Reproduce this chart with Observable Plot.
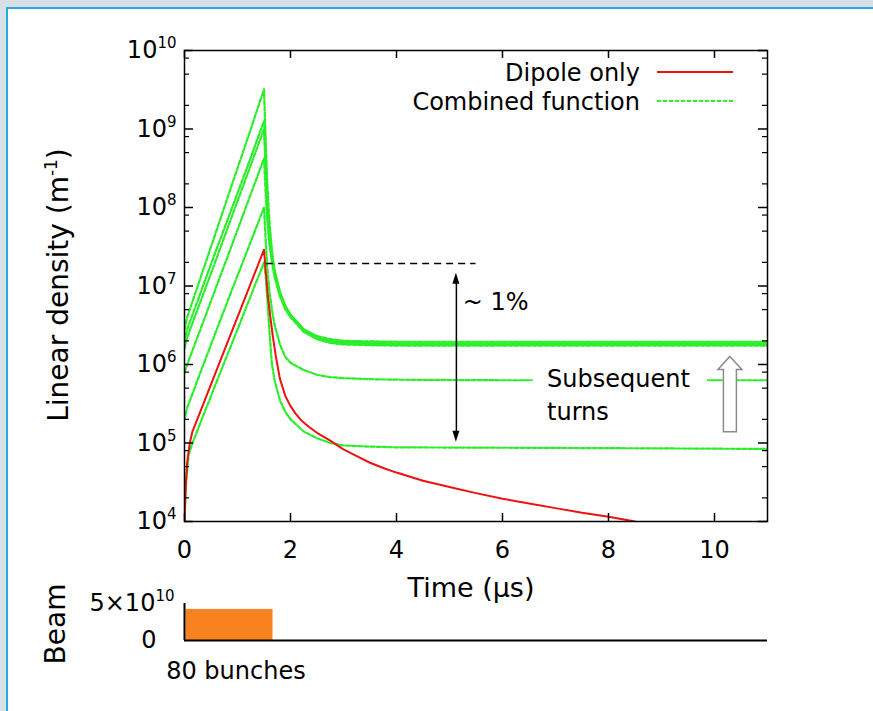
<!DOCTYPE html>
<html><head><meta charset="utf-8">
<script src="https://cdn.jsdelivr.net/npm/d3@7"></script>
<script src="https://cdn.jsdelivr.net/npm/@observablehq/plot@0.6"></script>
<style>
html,body{margin:0;padding:0;width:873px;height:711px;overflow:hidden;background:#d8dfe6;}
#panel{position:absolute;left:6px;top:7px;width:900px;height:720px;background:#fff;border-left:2px solid #2aa8df;border-top:2px solid #2aa8df;}
#chart{position:absolute;left:0;top:0;width:873px;height:711px;}
#chart svg{position:absolute;left:0;}
</style></head><body>
<div id="panel"></div>
<div id="chart"></div>
<script>
const FONT = "DejaVu Sans";
const GREEN = "#2aee2a";
const RED = "#ee1111";
const ORANGE = "#f7821f";

// ---- data (time in µs, linear density in m^-1) ----
const timeCombined = [0,0.05,0.3,0.6,0.9,1.2,1.5,1.53,1.56,1.6,1.65,1.7,1.8,1.9,2.0,2.25,2.5,2.75,3.0,3.5,4,6,8,11];
const turnA  = [2.8e6,4.0e6,1.26e7,5.0e7,2.0e8,7.9e8,3.2e9,7.9e8,2.2e8,7.1e7,2.8e7,1.6e7,8.5e6,5.6e6,4.3e6,2.8e6,2.3e6,2.1e6,2.0e6,1.97e6,1.95e6,1.95e6,1.95e6,1.95e6];
const turnB  = [2.0e6,2.8e6,8.1e6,2.9e7,1.0e8,3.5e8,1.26e9,4.0e8,1.26e8,5.0e7,2.5e7,1.5e7,8.3e6,5.6e6,4.3e6,2.8e6,2.25e6,2.0e6,1.92e6,1.88e6,1.86e6,1.86e6,1.86e6,1.86e6];
const turnB2 = [1.6e6,2.2e6,6.3e6,2.2e7,7.9e7,2.8e8,1.0e9,3.2e8,1.1e8,4.5e7,2.2e7,1.4e7,7.9e6,5.5e6,4.2e6,2.7e6,2.2e6,1.95e6,1.87e6,1.83e6,1.82e6,1.82e6,1.82e6,1.82e6];
const turnC  = [7.9e5,1.0e6,2.8e6,9.8e6,3.4e7,1.2e8,4.2e8,1.6e8,7.1e7,3.5e7,2.0e7,1.3e7,7.4e6,5.1e6,4.0e6,2.6e6,2.1e6,1.88e6,1.8e6,1.76e6,1.74e6,1.74e6,1.74e6,1.74e6];
const turnD  = [2.0e5,2.8e5,7.9e5,2.7e6,9.1e6,3.0e7,1.0e8,4.0e7,1.8e7,8.9e6,5.0e6,3.2e6,1.8e6,1.26e6,1.05e6,8.5e5,7.4e5,6.9e5,6.7e5,6.5e5,6.4e5,6.3e5,6.3e5,6.3e5];
const timeE  = [0,0.03,0.08,0.15,0.6,1.05,1.5,1.53,1.56,1.6,1.65,1.7,1.8,1.9,2.0,2.25,2.5,2.75,3.0,3.5,4,6,8,11];
const turnE  = [1.0e4,3.2e4,7.1e4,1.0e5,5.9e5,3.4e6,2.0e7,1.4e7,7.1e6,2.8e6,1.0e6,6.3e5,3.5e5,2.5e5,2.0e5,1.4e5,1.15e5,1.0e5,9.3e4,9.0e4,8.8e4,8.7e4,8.6e4,8.4e4];
const timeDipole = [0,0.02,0.05,0.1,0.15,0.6,1.05,1.5,1.53,1.57,1.62,1.67,1.73,1.8,1.9,2.0,2.1,2.2,2.35,2.5,2.75,3.0,3.25,3.5,3.75,4.0,4.5,5.0,5.5,6.0,6.5,7.0,7.5,8.0,8.5];
const dipole = [1.0e4,2.5e4,5.6e4,1.0e5,1.4e5,8.3e5,4.9e6,2.9e7,1.6e7,7.9e6,4.0e6,2.2e6,1.2e6,6.6e5,4.0e5,2.95e5,2.35e5,1.95e5,1.6e5,1.35e5,1.07e5,8.3e4,6.8e4,5.6e4,4.8e4,4.2e4,3.3e4,2.75e4,2.3e4,1.95e4,1.7e4,1.48e4,1.29e4,1.15e4,1.0e4];

// beam: 80 bunches
const beamStart = [0];
const beamEnd = [1.67];
const beamIntensity = [4.2e10];

// ticks
const xTicks = [0,2,4,6,8,10];
const yMajor = [1e4,1e5,1e6,1e7,1e8,1e9,1e10];
const yMinorMult = [2,5,8];
const beamTicks = [0,5e10];

// annotations
const refLevel = [{t1:1.55, t2:5.5, v:1.93e7}];
const rangeArrow = [{t:5.13, top:1.45e7, bottom:1.02e5}];
const notes = [{t:5.25, v:6.2e6, text:"~ 1%"},{t:6.84, v:6.4e5, text:"Subsequent"},{t:6.84, v:2.45e5, text:"turns"}];
const noteBox = [{t1:6.58, t2:9.87, v1:4.8e5, v2:8.3e5}];
const turnsArrow = [{t:10.3, top:1.25e6, bottom:1.37e5}];

// ---- build rows ----
const rows = [];
function addSeries(name, ts, vs){ ts.forEach((t,i)=>rows.push({series:name, t, v:vs[i]})); }
addSeries("E", timeE, turnE);
addSeries("D", timeCombined, turnD);
addSeries("C", timeCombined, turnC);
addSeries("B2", timeCombined, turnB2);
addSeries("B", timeCombined, turnB);
addSeries("A", timeCombined, turnA);
const dipoleRows = timeDipole.map((t,i)=>({t, v:dipole[i]}));
const yMinor = yMajor.slice(0,-1).flatMap(d => yMinorMult.map(m => m*d));

const W = 873, ML = 184, MR = 106, MT = 50, H = 600, MB = 79;
const PW = W-ML-MR, PH = H-MT-MB;

const main = Plot.plot({
  width: W, height: H,
  marginLeft: ML, marginRight: MR, marginTop: MT, marginBottom: MB,
  style: {fontFamily: FONT, fontSize: "24px", background: "transparent", overflow: "visible", maxWidth: "none", color: "black"},
  x: {domain: [0, 11]},
  y: {type: "log", domain: [1e4, 1e10]},
  marks: [
    Plot.line(rows, {x:"t", y:"v", z:"series", stroke: GREEN, strokeWidth: 2.2, strokeDasharray: "4,2", clip: true}),
    Plot.line(dipoleRows, {x:"t", y:"v", stroke: RED, strokeWidth: 2, clip: true}),
    Plot.rect(noteBox, {x1:"t1", x2:"t2", y1:"v1", y2:"v2", fill:"white"}),
    Plot.ruleY(refLevel, {y:"v", x1:"t1", x2:"t2", stroke:"black", strokeWidth:1.5, strokeDasharray:"7,5"}),
    Plot.ruleX(rangeArrow, {x:"t", y1:"top", y2:"bottom", stroke:"black", strokeWidth:1.5, insetTop: 8, insetBottom: 8}),
    Plot.text(notes, {x:"t", y:"v", text:"text", textAnchor:"start", fontSize: 24, fill:"black"}),
    Plot.frame({stroke:"black", strokeWidth: 1.5}),
    Plot.tickY(yMajor, {y: d=>d, insetRight: PW-9, stroke:"black", strokeWidth:1.5}),
    Plot.tickY(yMajor, {y: d=>d, insetLeft: PW-9, stroke:"black", strokeWidth:1.5}),
    Plot.tickY(yMinor, {y: d=>d, insetRight: PW-5, stroke:"black", strokeWidth:1.2}),
    Plot.tickY(yMinor, {y: d=>d, insetLeft: PW-5, stroke:"black", strokeWidth:1.2}),
    Plot.tickX(xTicks, {x: d=>d, insetTop: PH-8, stroke:"black", strokeWidth:1.5}),
    Plot.tickX(xTicks, {x: d=>d, insetBottom: PH-8, stroke:"black", strokeWidth:1.5}),
    Plot.axisX({ticks: xTicks, tickSize: 0, tickPadding: 19, label: null, fontSize: 24}),
    Plot.axisY({ticks: yMajor, tickSize: 0, tickPadding: 8, label: null, fontSize: 24,
      tickFormat: d => "10^" + Math.round(Math.log10(d))})
  ]
});
main.style.top = "0px";

const beam = Plot.plot({
  width: W, height: 131,
  marginLeft: ML, marginRight: MR, marginTop: 23, marginBottom: 71,
  style: {fontFamily: FONT, fontSize: "24px", background: "transparent", overflow: "visible", maxWidth: "none", color: "black"},
  x: {domain: [0, 11], axis: null},
  y: {domain: [0, 5e10]},
  marks: [
    Plot.rectY(beamStart.map((s,i)=>({s, e:beamEnd[i], n:beamIntensity[i]})), {x1:"s", x2:"e", y:"n", fill: ORANGE, insetLeft: 1.5}),
    Plot.ruleX([0], {y1: 0, y2: 5e10, stroke:"black", strokeWidth: 2}),
    Plot.ruleY([0], {x1: 0, x2: 11, stroke:"black", strokeWidth: 2}),
    Plot.axisY({ticks: beamTicks, tickSize: 0, tickPadding: 10, label: null, fontSize: 24,
      tickFormat: d => d === 0 ? "0" : "5\u00d710^10"}),
    Plot.text(["80 bunches"], {x: () => 0.97, frameAnchor: "bottom", lineAnchor: "middle", dy: 31, fontSize: 24, fill: "black"})
  ]
});
beam.style.top = "580px";

const chart = document.getElementById("chart");
chart.appendChild(main);
chart.appendChild(beam);

// superscript tick labels
function supify(svg){
  d3.select(svg).selectAll("text").each(function(){
    const s = this.textContent;
    if (!s.includes("^")) return;
    const [b, e] = s.split("^");
    const sel = d3.select(this);
    sel.text(null);
    sel.append("tspan").text(b);
    sel.append("tspan").attr("dy", -10).attr("font-size", 15).text(e);
  });
}
supify(main); supify(beam);
d3.select(beam).selectAll("text").each(function(){ if (this.textContent === "0") d3.select(this).attr("dx", -18); });

const xs = main.scale("x"), ys = main.scale("y");
const g = d3.select(main).append("g").attr("font-family", FONT);

// double-headed arrow heads
rangeArrow.forEach(a => {
  const x = xs.apply(a.t), y1 = ys.apply(a.top), y2 = ys.apply(a.bottom);
  g.append("path").attr("d", `M${x},${y1} L${x-3.5},${y1+11} L${x+3.5},${y1+11} Z`).attr("fill","black");
  g.append("path").attr("d", `M${x},${y2} L${x-3.5},${y2-11} L${x+3.5},${y2-11} Z`).attr("fill","black");
});

// hollow arrow "subsequent turns"
turnsArrow.forEach(a => {
  const x = xs.apply(a.t), y1 = ys.apply(a.top), y2 = ys.apply(a.bottom);
  g.append("path").attr("d",
    `M${x},${y1} L${x+12},${y1+13} L${x+6.5},${y1+13} L${x+6.5},${y2} L${x-6.5},${y2} L${x-6.5},${y1+13} L${x-12},${y1+13} Z`)
    .attr("fill","white").attr("stroke","#8a8a8a").attr("stroke-width",1.5);
});

// legend
const legend = [{label:"Dipole only", color: RED, dash: null, y: 72},{label:"Combined function", color: GREEN, dash: "4,2", y: 101}];
legend.forEach(l => {
  g.append("text").attr("x", 640).attr("y", l.y + 8.5).attr("text-anchor","end").attr("font-size", 24).attr("fill","black").text(l.label);
  const ln = g.append("line").attr("x1", 657).attr("x2", 733).attr("y1", l.y).attr("y2", l.y).attr("stroke", l.color).attr("stroke-width", 2);
  if (l.dash) ln.attr("stroke-dasharray", l.dash);
});

// axis titles
g.append("text").attr("x", 471).attr("y", 597).attr("text-anchor","middle").attr("font-size", 27).attr("fill","black").text("Time (\u00b5s)");
const yl = g.append("text").attr("transform","translate(68,285) rotate(-90)").attr("text-anchor","middle").attr("font-size", 28).attr("fill","black");
yl.append("tspan").text("Linear density (m");
yl.append("tspan").attr("dy", -11).attr("font-size", 17).text("-1");
yl.append("tspan").attr("dy", 11).text(")");

d3.select(beam).append("text").attr("font-family", FONT).attr("transform","translate(65,44) rotate(-90)").attr("text-anchor","middle").attr("font-size", 28).attr("fill","black").text("Beam");
</script></body></html>
